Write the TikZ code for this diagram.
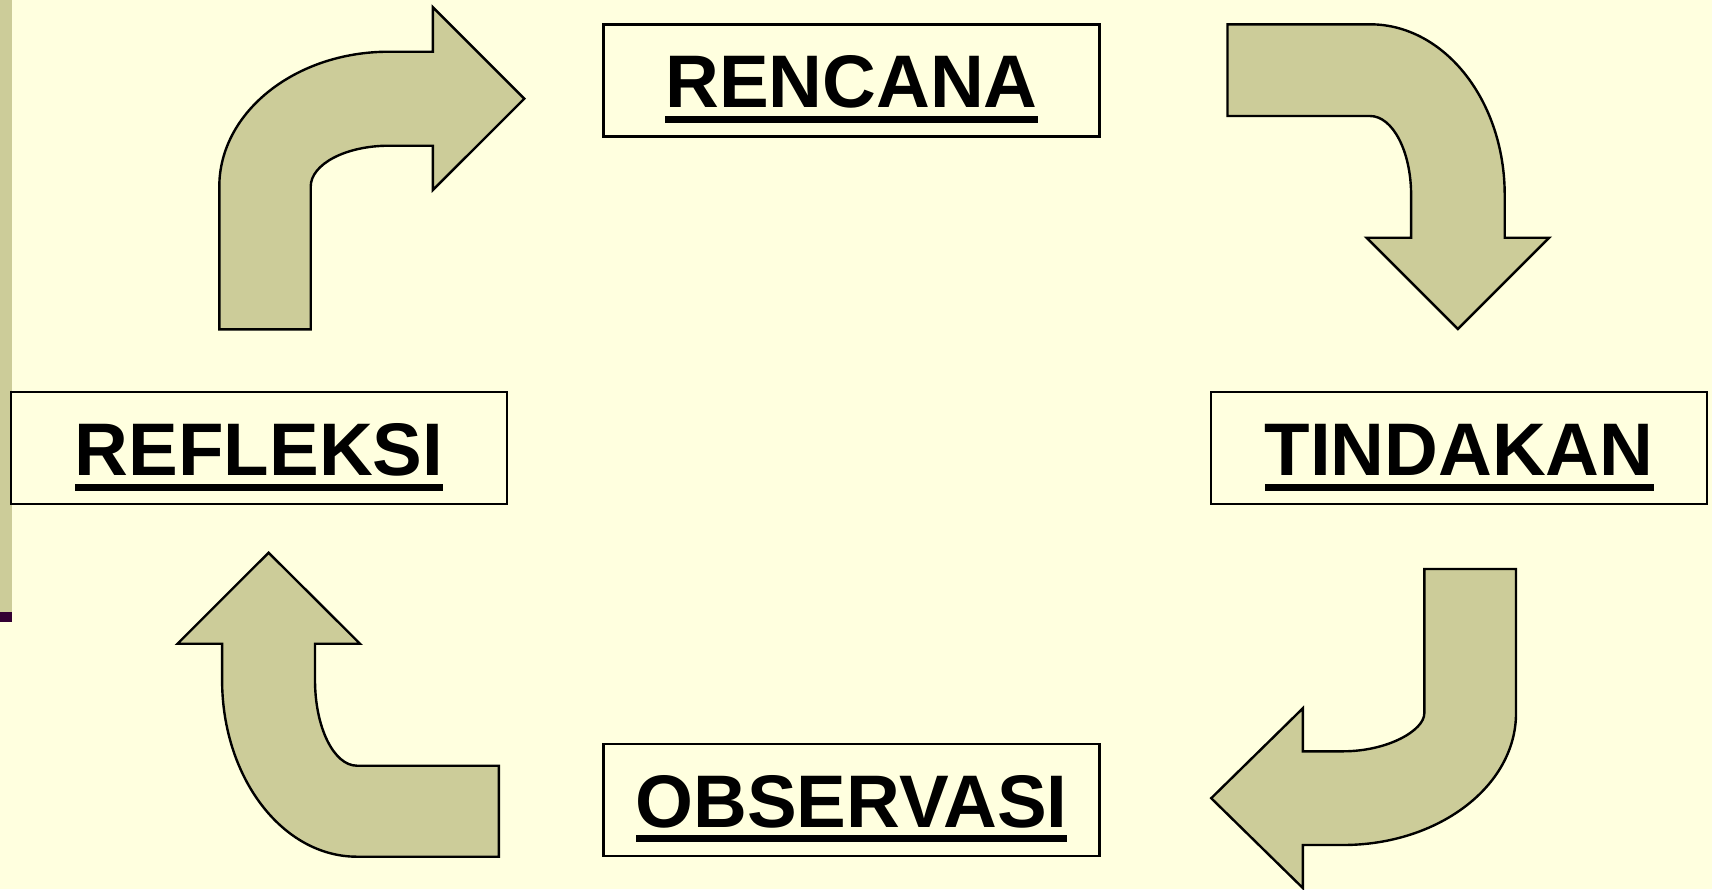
\documentclass[tikz,border=0pt]{standalone}
\usepackage{fontspec}
\setmainfont{Liberation Sans}
\definecolor{bgyellow}{HTML}{FFFFDF}
\definecolor{olivefill}{HTML}{CCCC99}
\definecolor{darkplum}{HTML}{330033}
\newcommand{\myul}[1]{\setbox0\hbox{#1}\rlap{\rule[-15pt]{\wd0}{7pt}}\box0}
\tikzset{
  stagebox/.style={draw=black, line width=2.4pt, fill=bgyellow, minimum width=496pt, minimum height=112pt, inner sep=0pt},
  stagetext/.style={anchor=base, inner sep=0pt, font=\bfseries\fontsize{74.5}{74.5}\selectfont},
  blockarrow/.style={draw=black, line width=2.4pt, fill=olivefill, line join=miter}
}
\begin{document}
\begin{tikzpicture}[x=1pt, y=-1pt]
\fill[bgyellow] (0,0) rectangle (1712,889);
\useasboundingbox (0,0) rectangle (1712,889);
% left strip
\fill[olivefill] (0,0) rectangle (12,612);
\fill[darkplum] (0,612) rectangle (12,621.5);

% boxes
\node[stagebox] (ren) at (851.5,80.3) {};
\node[stagebox] (ref) at (259.1,448.2) {};
\node[stagebox] (tin) at (1459.1,448.2) {};
\node[stagebox] (obs) at (851.5,800) {};

\node[stagetext] (renT) at ([yshift=-27.3pt]ren.center) {\myul{RENCANA}};
\node[stagetext] (refT) at ([yshift=-27.3pt]ref.center) {\myul{REFLEKSI}};
\node[stagetext] (tinT) at ([yshift=-27.3pt]tin.center) {\myul{TINDAKAN}};
\node[stagetext] (obsT) at ([yshift=-27.3pt]obs.center) {\myul{OBSERVASI}};

% arrow 1: up then right (REFLEKSI -> RENCANA)
\draw[blockarrow] (219.3,329.3) -- (219.3,186.7)
  .. controls (219.3,112.1) and (295.3,51.7) .. (389,51.7)
  -- (432.9,51.7) -- (432.9,7.3) -- (524.3,98.7) -- (432.9,190) -- (432.9,145.7)
  -- (389,145.7) .. controls (345.8,145.7) and (310.7,164.1) .. (310.7,186.7)
  -- (310.7,329.3) -- cycle;

% arrow 2: right then down (RENCANA -> TINDAKAN)
\draw[blockarrow] (1227.5,24.3) -- (1370,24.3)
  .. controls (1444.4,24.3) and (1504.7,100.7) .. (1504.7,195)
  -- (1504.7,237.7) -- (1549.2,237.7) -- (1457.9,329) -- (1366.6,237.7) -- (1411.1,237.7)
  -- (1411.1,195) .. controls (1411.1,151.4) and (1392.7,116) .. (1370,116)
  -- (1227.5,116) -- cycle;

% arrow 3: down then left (TINDAKAN -> OBSERVASI)
\draw[blockarrow] (1424.3,569) -- (1516,569) -- (1516,713.3)
  .. controls (1516,786) and (1438.5,845) .. (1342.9,845)
  -- (1302.8,845) -- (1302.8,888) -- (1211.2,798.2) -- (1302.8,708.3) -- (1302.8,751.3)
  -- (1342.9,751.3) .. controls (1387.9,751.3) and (1424.3,730.3) .. (1424.3,713.3)
  -- cycle;

% arrow 4: left then up (OBSERVASI -> REFLEKSI)
\draw[blockarrow] (498.9,765.7) -- (357,765.7)
  .. controls (333.8,765.7) and (315,727.3) .. (315,680)
  -- (315,643.7) -- (360,643.7) -- (268.6,552.7) -- (177.5,643.7) -- (222.1,643.7)
  -- (222.1,680) .. controls (222.1,777.6) and (282.5,856.7) .. (357,856.7)
  -- (498.9,856.7) -- cycle;
\end{tikzpicture}
\end{document}
